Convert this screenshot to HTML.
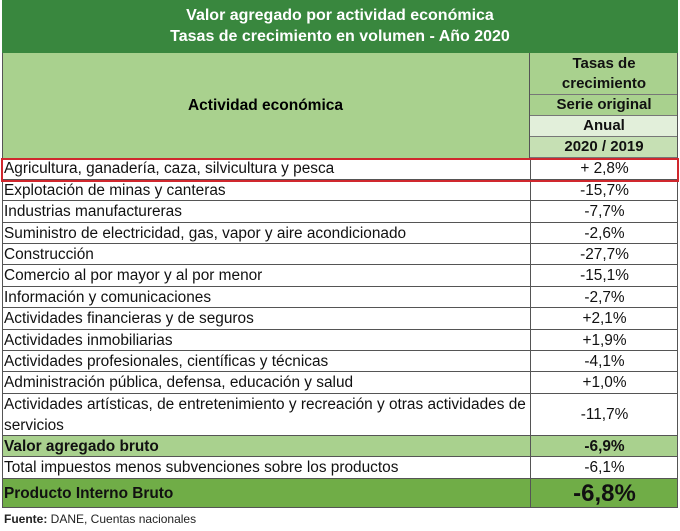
<!DOCTYPE html>
<html><head><meta charset="utf-8"><style>
body{margin:0;background:#fff;width:680px;height:531px;overflow:hidden;font-family:"Liberation Sans",sans-serif;}
.w{position:absolute;left:2px;top:0;width:676px;}
.title{position:absolute;left:0;top:0;width:676px;height:53px;background:#39873e;color:#fff;font-weight:bold;font-size:16px;text-align:center;line-height:21px;padding-top:5px;box-sizing:border-box;}
.hl{position:absolute;left:0;top:53px;width:528px;height:105px;background:#a9d18e;border-right:1px solid #555;box-sizing:border-box;font-size:15.5px;font-weight:bold;display:flex;align-items:center;justify-content:center;}
.hr{position:absolute;left:528px;width:148px;text-align:center;font-size:15px;font-weight:bold;box-sizing:border-box;border-bottom:1px solid #777;color:#111}
.row{position:absolute;left:0;width:676px;border-bottom:1px solid #555;box-sizing:border-box;font-size:15.4px;color:#111;}
.row .a{position:absolute;left:2px;top:0;width:524px;}
.row .b{position:absolute;left:528px;width:148px;top:0;height:100%;border-left:1px solid #555;text-align:center;display:flex;align-items:center;justify-content:center;box-sizing:border-box;}
.frame{position:absolute;left:0;top:53px;width:676px;height:455px;border-left:1px solid #555;border-right:1px solid #555;box-sizing:border-box;}
</style></head><body>
<div class="w">
<div class="title">Valor agregado por actividad económica<br>Tasas de crecimiento en volumen - Año 2020</div>
<div class="hl">Actividad económica</div>
<div class="hr" style="top:53px;height:42px;background:#a9d18e;line-height:20px;padding-top:1px">Tasas de<br>crecimiento</div>
<div class="hr" style="top:95px;height:21px;background:#a9d18e;line-height:20px">Serie original</div>
<div class="hr" style="top:116px;height:21px;background:#e2efda;line-height:20px">Anual</div>
<div class="hr" style="top:137px;height:21px;background:#c6e0b4;line-height:20px">2020 / 2019</div>
<div class="row" style="top:158px;height:22px;line-height:22px"><span class="a">Agricultura, ganadería, caza, silvicultura y pesca</span><span class="b">+ 2,8%</span></div>
<div class="row" style="top:180px;height:21px;line-height:21px"><span class="a">Explotación de minas y canteras</span><span class="b">-15,7%</span></div>
<div class="row" style="top:201px;height:22px;line-height:22px"><span class="a">Industrias manufactureras</span><span class="b">-7,7%</span></div>
<div class="row" style="top:223px;height:21px;line-height:21px"><span class="a">Suministro de electricidad, gas, vapor y aire acondicionado</span><span class="b">-2,6%</span></div>
<div class="row" style="top:244px;height:21px;line-height:21px"><span class="a">Construcción</span><span class="b">-27,7%</span></div>
<div class="row" style="top:265px;height:22px;line-height:22px"><span class="a">Comercio al por mayor y al por menor</span><span class="b">-15,1%</span></div>
<div class="row" style="top:287px;height:21px;line-height:21px"><span class="a">Información y comunicaciones</span><span class="b">-2,7%</span></div>
<div class="row" style="top:308px;height:22px;line-height:22px"><span class="a">Actividades financieras y de seguros</span><span class="b">+2,1%</span></div>
<div class="row" style="top:330px;height:21px;line-height:21px"><span class="a">Actividades inmobiliarias</span><span class="b">+1,9%</span></div>
<div class="row" style="top:351px;height:21px;line-height:21px"><span class="a">Actividades profesionales, científicas y técnicas</span><span class="b">-4,1%</span></div>
<div class="row" style="top:372px;height:22px;line-height:22px"><span class="a">Administración pública, defensa, educación y salud</span><span class="b">+1,0%</span></div>
<div class="row" style="top:394px;height:42px;line-height:21px"><span class="a">Actividades artísticas, de entretenimiento y recreación y otras actividades de servicios</span><span class="b">-11,7%</span></div>
<div class="row" style="top:436px;height:21px;line-height:21px;background:#a9d18e;font-weight:bold"><span class="a">Valor agregado bruto</span><span class="b">-6,9%</span></div>
<div class="row" style="top:457px;height:22px;line-height:22px"><span class="a">Total impuestos menos subvenciones sobre los productos</span><span class="b">-6,1%</span></div>
<div class="row" style="top:479px;height:29px;line-height:29px;background:#70ad47;font-weight:bold"><span class="a">Producto Interno Bruto</span><span class="b" style="font-size:24px">-6,8%</span></div>
<div class="frame"></div>
<div style="position:absolute;left:-1px;top:158px;width:678px;height:24px;border:2px solid #d0282e;box-sizing:border-box"></div>
</div>
<div style="position:absolute;left:4px;top:512px;font-size:12px;color:#222"><b>Fuente:</b> DANE, Cuentas nacionales</div>
</body></html>
